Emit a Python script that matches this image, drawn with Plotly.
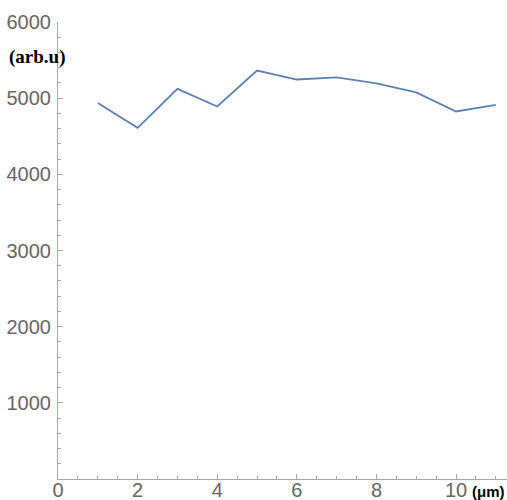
import plotly.graph_objects as go

# Measured profile along the sample
position_um = [1, 2, 3, 4, 5, 6, 7, 8, 9, 10, 11]
intensity = [4938, 4610, 5122, 4891, 5363, 5245, 5272, 5193, 5075, 4825, 4912]

x_ticks = [0, 2, 4, 6, 8, 10]
y_ticks = [1000, 2000, 3000, 4000, 5000, 6000]

axis_color = "#a8a8a8"
label_color = "#666666"

fig = go.Figure(
    go.Scatter(
        x=position_um,
        y=intensity,
        mode="lines",
        line=dict(color="#5E81B5", width=1.8),
        hoverinfo="skip",
    )
)

fig.update_layout(
    width=507,
    height=500,
    margin=dict(l=58, r=0, t=22, b=21, autoexpand=False),
    paper_bgcolor="white",
    plot_bgcolor="white",
    showlegend=False,
    font=dict(family="Liberation Sans", size=20, color=label_color),
)

fig.update_xaxes(
    range=[0, 11.28],
    tickvals=x_ticks,
    ticktext=[str(v) for v in x_ticks],
    showgrid=False,
    zeroline=False,
    showline=True,
    linecolor=axis_color,
    linewidth=1,
    ticks="inside",
    ticklen=5,
    tickcolor=axis_color,
    minor=dict(ticks="inside", ticklen=3, dtick=0.5, tick0=0, tickcolor=axis_color, showgrid=False),
    ticklabelstandoff=-7,
    automargin=False,
    tickfont=dict(family="Liberation Sans", size=20, color=label_color),
)

fig.update_yaxes(
    range=[0, 6000],
    tickvals=y_ticks,
    ticktext=[str(v) for v in y_ticks],
    showgrid=False,
    zeroline=False,
    showline=True,
    linecolor=axis_color,
    linewidth=1,
    ticks="inside",
    ticklen=5,
    tickcolor=axis_color,
    minor=dict(ticks="inside", ticklen=3, dtick=200, tick0=0, tickcolor=axis_color, showgrid=False),
    ticklabelstandoff=2,
    automargin=False,
    tickfont=dict(family="Liberation Sans", size=20, color=label_color),
)

# Axis unit labels
fig.add_annotation(
    text="<b>(arb.u)</b>",
    xref="paper", yref="paper",
    x=-51 / 449, y=(479 - 57) / 457,
    xanchor="left", yanchor="middle",
    showarrow=False,
    font=dict(family="'Liberation Serif', 'Times New Roman', Times, serif", size=19, color="black"),
)
fig.add_annotation(
    text="<b>(μm)</b>",
    xref="paper", yref="paper",
    x=1.0, y=-12 / 457,
    xanchor="right", yanchor="middle",
    showarrow=False,
    font=dict(family="Liberation Sans", size=15, color="black"),
)

fig.write_html("out.html")
